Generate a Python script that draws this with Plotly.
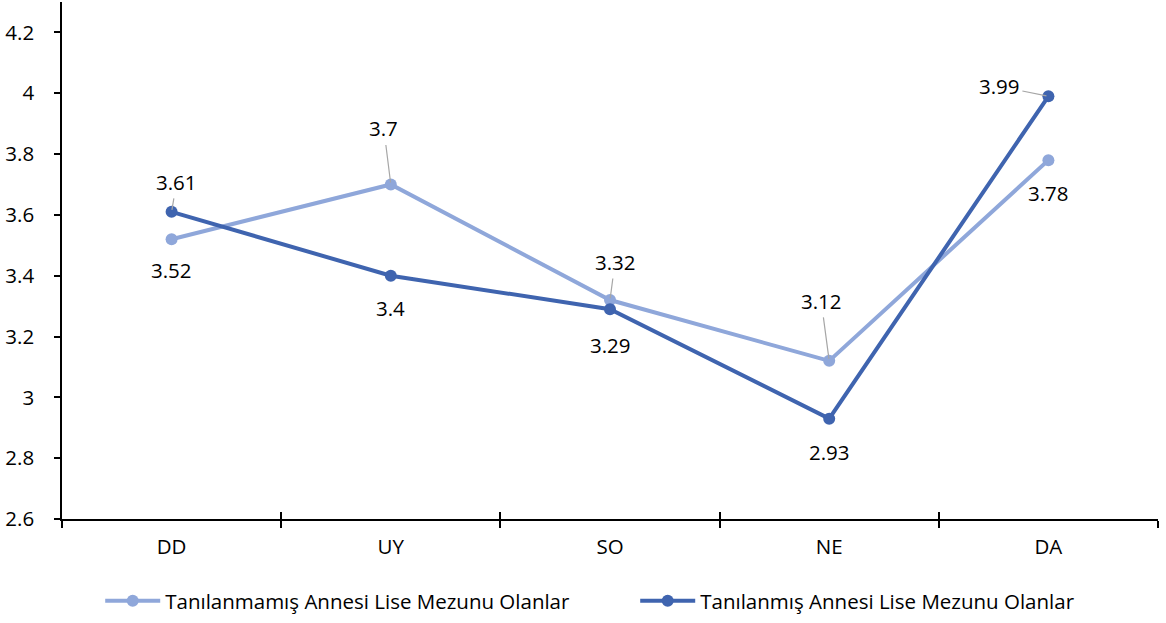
import plotly.graph_objects as go

categories = ["DD", "UY", "SO", "NE", "DA"]
tanilanmamis = [3.52, 3.70, 3.32, 3.12, 3.78]
tanilanmis = [3.61, 3.40, 3.29, 2.93, 3.99]
series_names = [
    "Tanılanmamış Annesi Lise Mezunu Olanlar",
    "Tanılanmış Annesi Lise Mezunu Olanlar",
]
y_ticks = [2.6, 2.8, 3.0, 3.2, 3.4, 3.6, 3.8, 4.0, 4.2]
y_tick_text = ["2.6", "2.8", "3", "3.2", "3.4", "3.6", "3.8", "4", "4.2"]

LIGHT = "#8FA7DA"
DARK = "#3F64AF"
FONT = "Open Sans"
FS = 20.5

fig = go.Figure()
fig.add_trace(go.Scatter(
    x=categories, y=tanilanmamis, name=series_names[0], mode="lines+markers",
    line=dict(color=LIGHT, width=4), marker=dict(color=LIGHT, size=12),
))
fig.add_trace(go.Scatter(
    x=categories, y=tanilanmis, name=series_names[1], mode="lines+markers",
    line=dict(color=DARK, width=4), marker=dict(color=DARK, size=12),
))

# Data labels: (series values, index, x offset px, y offset px, leader line)
label_specs = [
    (tanilanmamis, 0, 0, 31, False),
    (tanilanmis, 0, 5, -30, True),
    (tanilanmamis, 1, -7, -56, True),
    (tanilanmis, 1, 0, 32, False),
    (tanilanmamis, 2, 5, -38, True),
    (tanilanmis, 2, 0, 36, False),
    (tanilanmamis, 3, -8, -60, True),
    (tanilanmis, 3, 0, 33, False),
    (tanilanmis, 4, -49, -10, True),
    (tanilanmamis, 4, 0, 33, False),
]
annotations = []
for values, i, dx, dy, leader in label_specs:
    v = values[i]
    annotations.append(dict(
        x=categories[i], y=v, xref="x", yref="y",
        text=f"{v:g}", font=dict(family=FONT, size=FS, color="#000000"),
        showarrow=True, ax=dx, ay=dy, axref="pixel", ayref="pixel",
        arrowhead=0, arrowwidth=1.2,
        arrowcolor="#A6A6A6" if leader else "rgba(0,0,0,0)",
        standoff=2, startstandoff=1,
    ))

fig.update_layout(
    width=1166, height=623,
    margin=dict(l=62, r=8, t=2, b=104, autoexpand=False),
    paper_bgcolor="white", plot_bgcolor="white",
    font=dict(family=FONT, size=FS, color="#000000"),
    showlegend=True,
    legend=dict(
        orientation="h", x=0.523, xanchor="center", y=-0.12, yanchor="top",
        font=dict(family=FONT, size=FS), itemwidth=55, entrywidth=465,
    ),
    annotations=annotations,
    xaxis=dict(
        type="category", categoryorder="array", categoryarray=categories,
        range=[-0.5, 4.5], showgrid=False, zeroline=False,
        showline=True, linecolor="#000000", linewidth=1.5,
        ticks="outside", ticklen=7, tickwidth=1.5, tickcolor="#000000",
        tickson="boundaries", ticklabelstandoff=9,
        tickfont=dict(family=FONT, size=FS),
    ),
    xaxis2=dict(
        type="category", categoryorder="array", categoryarray=categories,
        range=[-0.5, 4.5], overlaying="x", anchor="y", side="bottom",
        showgrid=False, zeroline=False, showline=False, showticklabels=False,
        ticks="inside", ticklen=7, tickwidth=1.5, tickcolor="#000000",
        tickson="boundaries",
    ),
    yaxis=dict(
        range=[2.6, 4.3], tickvals=y_ticks, ticktext=y_tick_text,
        showgrid=False, zeroline=False,
        showline=True, linecolor="#000000", linewidth=1.5,
        ticks="outside", ticklen=6, tickwidth=1.5, tickcolor="#000000",
        ticklabelstandoff=16, tickfont=dict(family=FONT, size=FS),
    ),
)
# Invisible trace to carry the inner half of the category boundary ticks
fig.add_trace(go.Scatter(x=categories, y=tanilanmis, xaxis="x2", yaxis="y",
                         mode="none", showlegend=False, hoverinfo="skip"))

fig.write_html("out.html")
